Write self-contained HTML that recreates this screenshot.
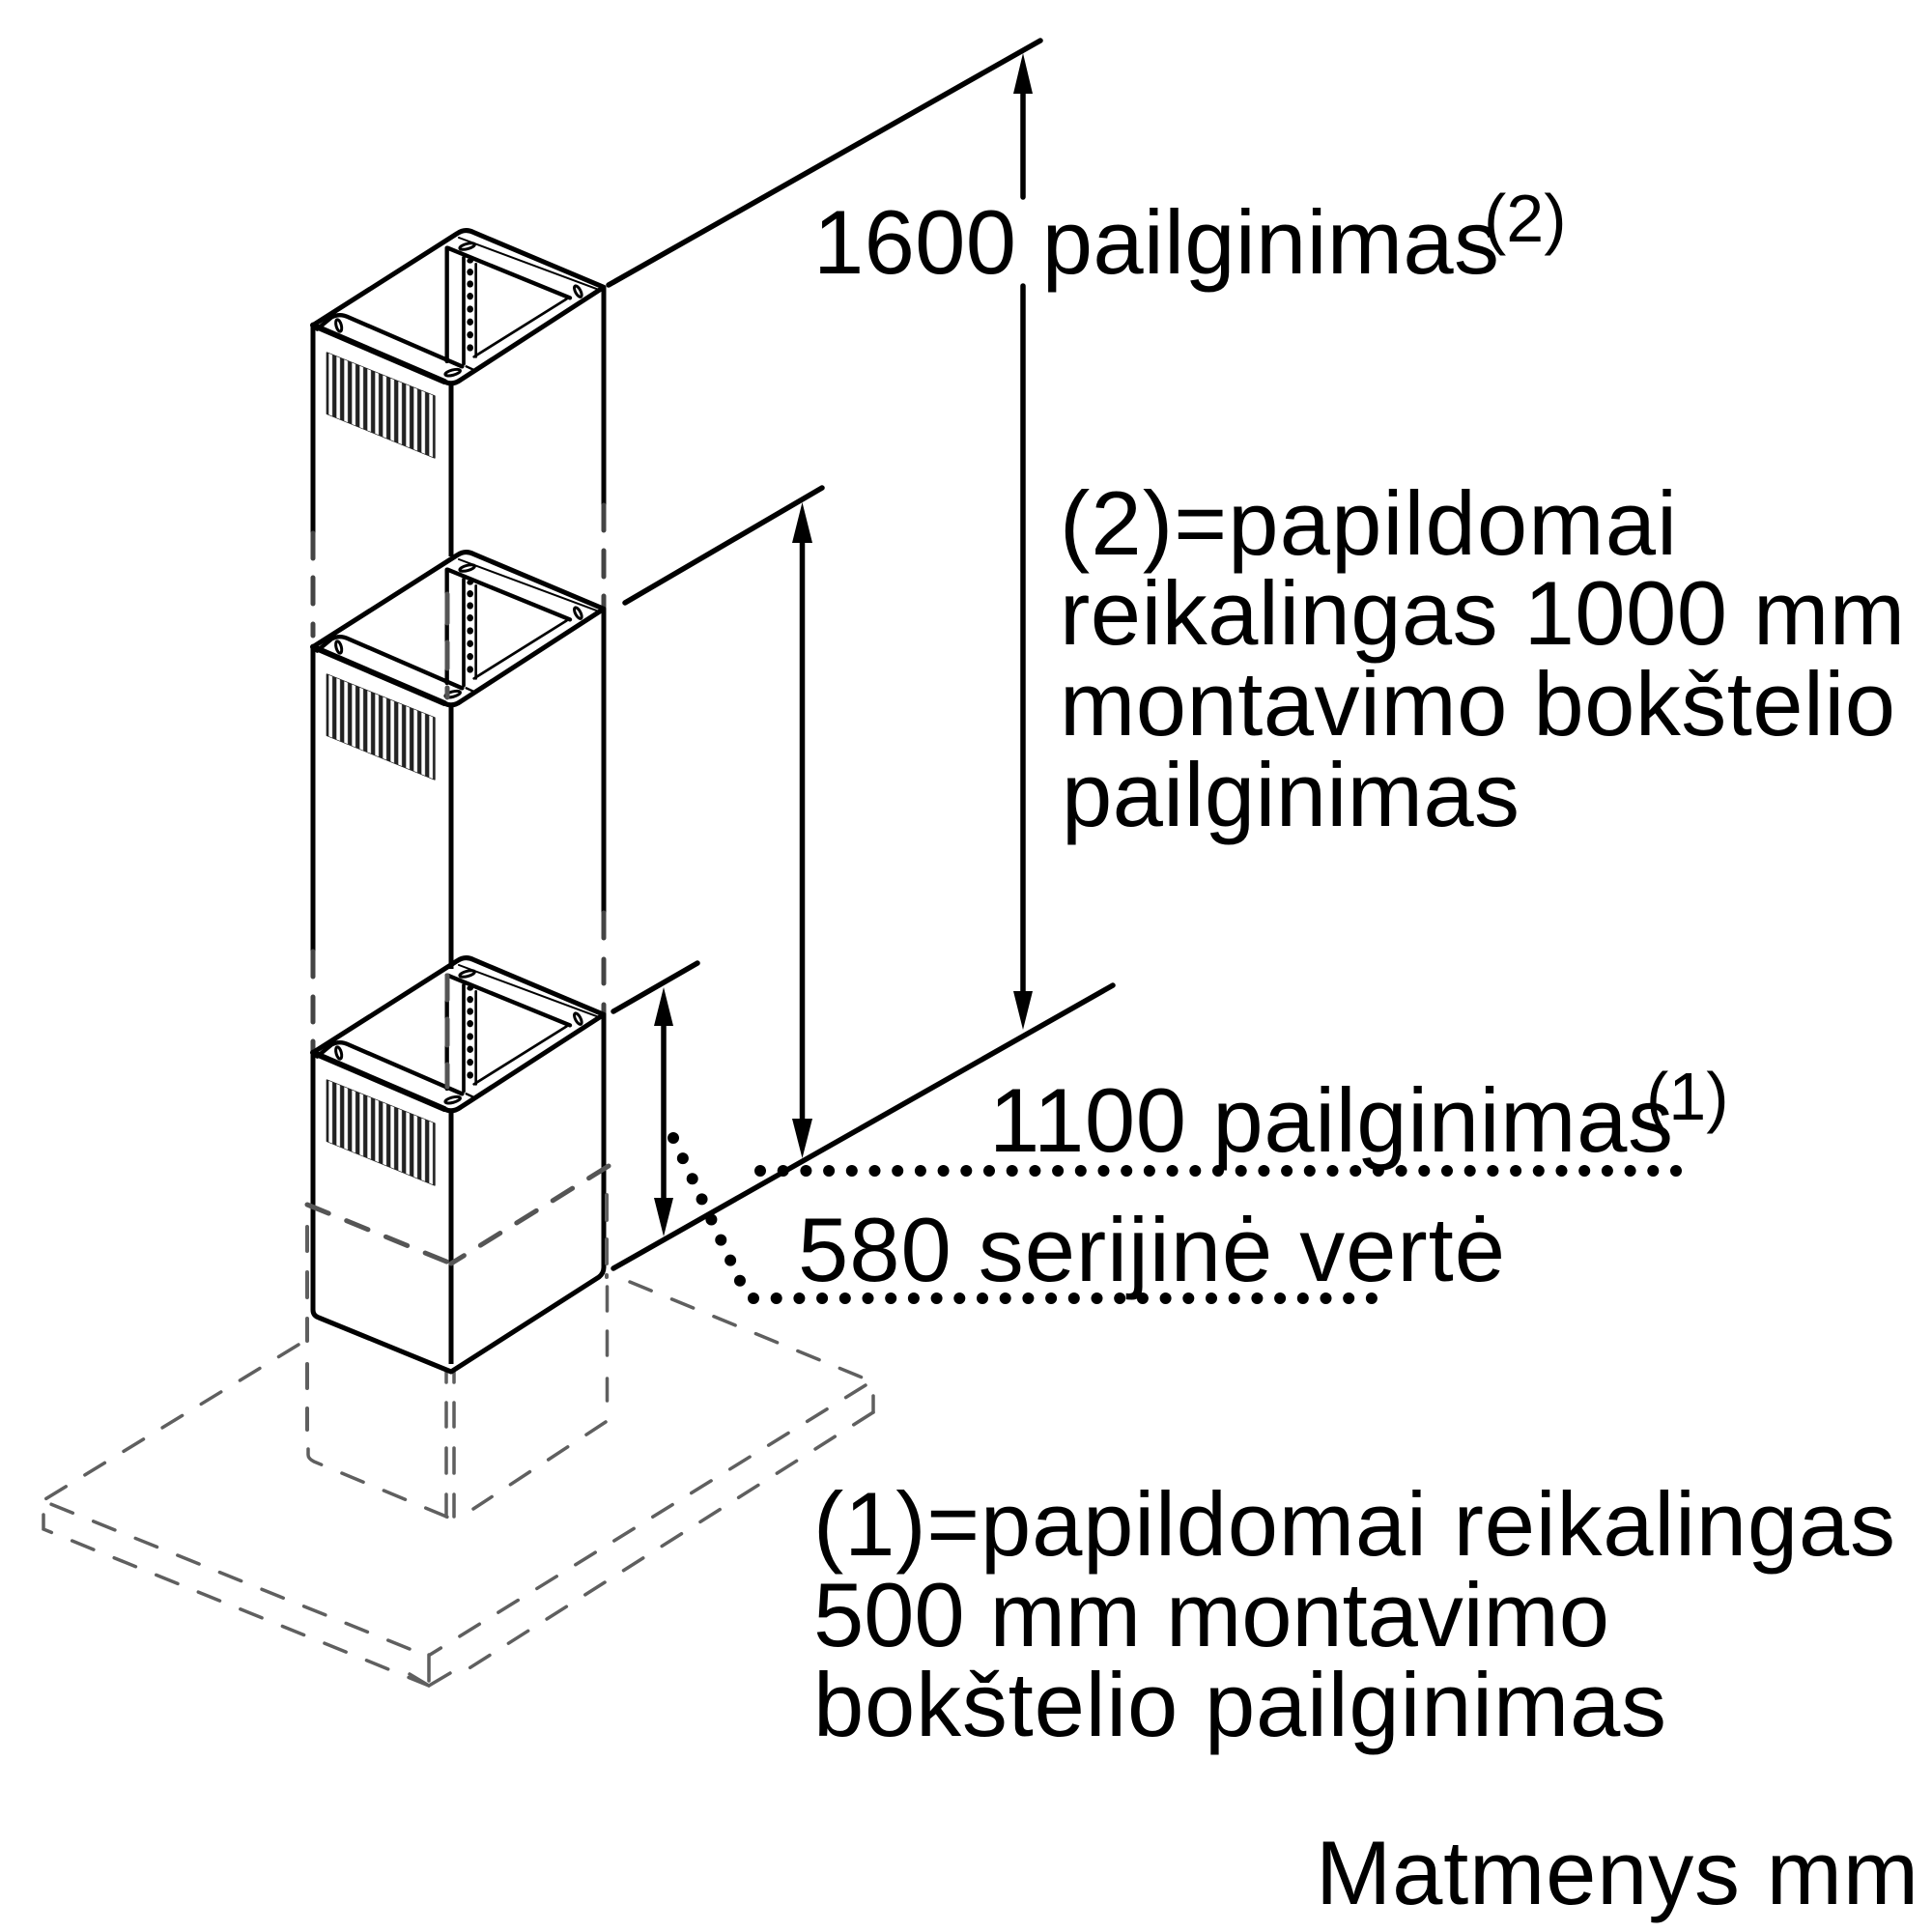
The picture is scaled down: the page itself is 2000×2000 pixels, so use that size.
<!DOCTYPE html>
<html>
<head>
<meta charset="utf-8">
<style>
html,body{margin:0;padding:0;background:#fff}
svg{display:block}
text{font-family:"Liberation Sans",Arial,sans-serif;fill:#000}
.t{font-size:94px}
.s{font-size:70px}
</style>
</head>
<body>
<svg width="2000" height="2000" viewBox="0 0 2000 2000" xmlns="http://www.w3.org/2000/svg">
<defs>
<pattern id="st" patternUnits="userSpaceOnUse" x="115" y="0" width="24" height="20">
<rect x="6" y="0" width="11" height="20" fill="#fff"/>
</pattern>
<g id="top" transform="translate(300,220) scale(.33333)" stroke="#000" fill="none" stroke-linejoin="round" stroke-linecap="round">
<polygon points="115,435 450,570 450,762 115,625" fill="#222" stroke="#222" stroke-width="4"/>
<polygon points="115,435 450,570 450,762 115,625" fill="url(#st)" stroke="none"/>
<path d="M72,350 L520,65 Q545,48 572,62 L975,232 L530,520 Q505,538 480,525 Z" fill="none" stroke-width="15"/>
<path d="M72,350 L480,525" stroke-width="18"/>
<path d="M85,362 L130,325 Q155,312 182,325 L535,478" stroke-width="13"/>
<path d="M490,110 L870,265" stroke-width="13"/>
<path d="M525,78 L955,238" stroke-width="6"/>
<path d="M860,268 L572,448" stroke-width="8"/>
<path d="M548,478 L570,488" stroke-width="7"/>
<path d="M488,110 V462" stroke-width="13"/>
<path d="M540,140 V470" stroke-width="11"/>
<path d="M578,160 V448" stroke-width="8"/>
<g fill="#000" stroke="none">
<ellipse cx="560" cy="150" rx="10" ry="8"/>
<ellipse cx="560" cy="185" rx="10" ry="11"/>
<ellipse cx="560" cy="222" rx="10" ry="11"/>
<ellipse cx="560" cy="260" rx="10" ry="11"/>
<ellipse cx="560" cy="300" rx="10" ry="11"/>
<ellipse cx="560" cy="340" rx="10" ry="11"/>
<ellipse cx="560" cy="380" rx="10" ry="11"/>
<ellipse cx="560" cy="420" rx="10" ry="11"/>
</g>
<g fill="#fff" stroke-width="9">
<ellipse cx="152" cy="351" rx="19" ry="8" transform="rotate(75 152 351)"/>
<ellipse cx="551" cy="105" rx="24" ry="8" transform="rotate(-15 551 105)"/>
<ellipse cx="895" cy="245" rx="19" ry="8" transform="rotate(62 895 245)"/>
<ellipse cx="506" cy="497" rx="24" ry="8" transform="rotate(-15 506 497)"/>
</g>
</g>
</defs>

<!-- gray dashed base -->
<g fill="none" stroke="#5f5f5f" stroke-width="3.5" stroke-linecap="round">
<path d="M309,1392 L45,1553" stroke-dasharray="24 23"/>
<path d="M424,1707 L50,1556" stroke-dasharray="24 23"/>
<path d="M652,1327 L895,1427" stroke-dasharray="24 23"/>
<path d="M896,1434 L445,1713" stroke-dasharray="24 23"/>
<path d="M904,1462 L484,1728" stroke-dasharray="24 23"/>
<path d="M904,1445 V1462"/>
<path d="M45,1568 V1583 L444,1745" stroke-dasharray="24 23"/>
<path d="M424,1733 L444,1745 L466,1732"/>
<path d="M444,1713 V1740"/>
<path d="M319,1500 V1506 Q319,1510 325,1513 L467,1572" stroke-dasharray="24 23"/>
<path d="M628.5,1332 V1357 M628.5,1378 V1403 M628.5,1427 V1450"/>
<path d="M627,1472 L490,1562" stroke-dasharray="24 23"/>
<path d="M462,1420 V1431 M470,1420 V1431 M462,1452 V1477 M470,1452 V1477 M462,1499 V1525 M470,1499 V1525 M462,1547 V1570 M470,1547 V1570"/>
</g>

<!-- box verticals -->
<g fill="none" stroke="#000" stroke-width="5">
<path d="M324,337 V552 M467,397 V576 M625,297 V523"/>
<path d="M324,670 V985 M467,730 V1003 M625,630 V945"/>
<path d="M324,1090 V1356 Q324,1362 330,1364 L467,1420 L620,1322 Q625,1318 625,1312 V1048 M467,1150 V1412" stroke-linejoin="round"/>
</g>
<g fill="none" stroke="#444" stroke-width="5" stroke-linecap="round">
<path d="M324,552 V578 M324,598 V625 M324,646 V658"/>
<path d="M625,523 V549 M625,570 V597 M625,617 V630"/>
<path d="M324,985 V1011 M324,1032 V1058 M324,1078 V1090"/>
<path d="M625,945 V971 M625,993 V1018 M625,1040 V1048"/>
</g>

<use href="#top"/>
<use href="#top" y="333"/>
<use href="#top" y="753"/>

<!-- gray overlay on posts and band -->
<g fill="none" stroke="#555" stroke-width="5" stroke-linecap="round">
<path d="M463,615 V645 M463,665 V692 M463,712 V722"/>
<path d="M463,1010 V1035 M463,1055 V1082 M463,1102 V1125"/>
<path d="M318,1247 L467,1308" stroke-dasharray="24 20"/>
<path d="M630,1207 L467,1308" stroke-dasharray="24 20"/>
</g>
<g fill="none" stroke="#5f5f5f" stroke-width="4" stroke-linecap="round">
<path d="M318,1270 V1295 M318,1317 V1343 M318,1365 V1388 M318,1412 V1437 M318,1458 V1480"/>
<path d="M628,1237 V1263 M628,1283 V1308 M628,1320 V1322"/>
</g>

<!-- dimension lines -->
<g fill="none" stroke="#000" stroke-width="5.5" stroke-linecap="round">
<path d="M630,295 L1077,42"/>
<path d="M647,624 L851,505"/>
<path d="M635,1047 L722,997"/>
<path d="M635,1313 L1152,1020"/>
<path d="M1059,90 V204 M1059,296 V1030"/>
<path d="M830.5,550 V1170"/>
<path d="M687,1050 V1250"/>
</g>
<g fill="#000">
<polygon points="1059,55 1069,97 1049,97"/>
<polygon points="1059,1066 1069,1026 1049,1026"/>
<polygon points="830.5,520 841,562 820,562"/>
<polygon points="830.5,1199 841,1158 820,1158"/>
<polygon points="687,1022 697,1062 677,1062"/>
<polygon points="687,1280 697,1240 677,1240"/>
</g>

<!-- dotted leaders -->
<g fill="none" stroke="#000" stroke-width="12" stroke-linecap="round">
<path d="M787,1212 H1737" stroke-dasharray="0 23.7"/>
<path d="M780,1344 H1424" stroke-dasharray="0 23.7"/>
<path d="M697,1178 L767,1328" stroke-dasharray="0 23.3"/>
</g>

<!-- labels -->
<text class="t" x="842" y="283" textLength="710">1600 pailginimas</text>
<text class="s" x="1536" y="250">(2)</text>
<text class="t" x="1097" y="574" textLength="639">(2)=papildomai</text>
<text class="t" x="1097" y="667" textLength="875">reikalingas 1000 mm</text>
<text class="t" x="1097" y="761" textLength="865">montavimo bokštelio</text>
<text class="t" x="1099" y="855" textLength="474">pailginimas</text>
<text class="t" x="1024" y="1192" textLength="708">1100 pailginimas</text>
<text class="s" x="1704" y="1159">(1)</text>
<text class="t" x="826" y="1326" textLength="732">580 serijinė vertė</text>
<text class="t" x="842" y="1610" textLength="1120">(1)=papildomai reikalingas</text>
<text class="t" x="842" y="1704" textLength="824">500 mm montavimo</text>
<text class="t" x="842" y="1797" textLength="883">bokštelio pailginimas</text>
<text class="t" x="1362" y="1971" textLength="624">Matmenys mm</text>
</svg>
</body>
</html>
